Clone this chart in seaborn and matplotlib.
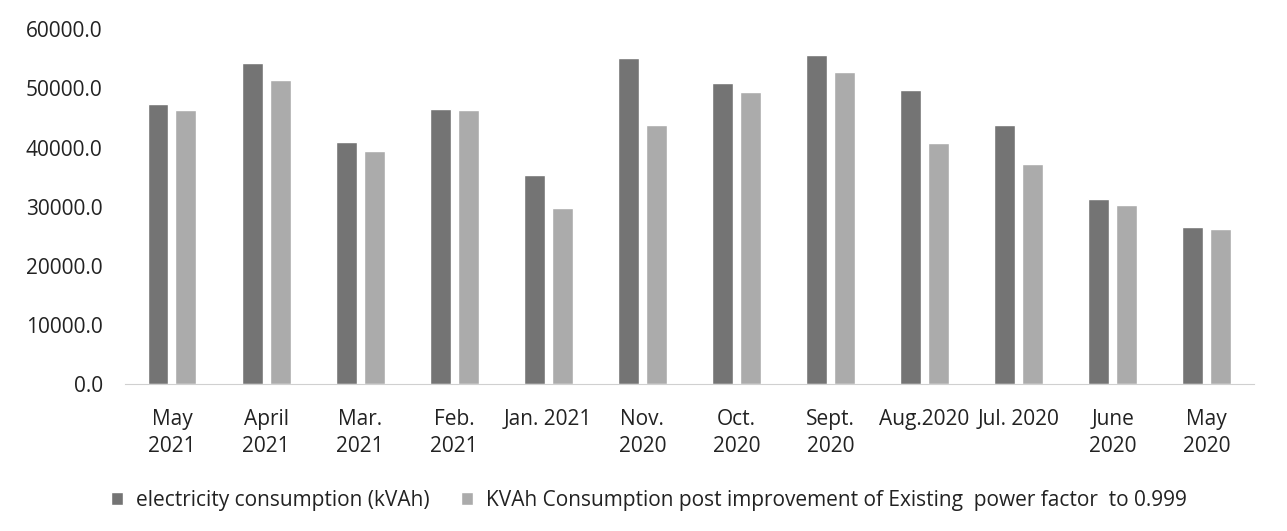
import numpy as np
import pandas as pd
import seaborn as sns
from matplotlib import pyplot as plt
from matplotlib.ticker import FuncFormatter

# Monthly data
months = [
    "May\n2021", "April\n2021", "Mar.\n2021", "Feb.\n2021", "Jan. 2021",
    "Nov.\n2020", "Oct.\n2020", "Sept.\n2020", "Aug.2020", "Jul. 2020",
    "June\n2020", "May\n2020",
]
kvah_consumption = [47400, 54250, 40900, 46550, 35400, 55200, 50900, 55650, 49650, 43800, 31250, 26600]
kvah_improved = [46300, 51450, 39500, 46300, 29700, 43750, 49450, 52850, 40700, 37300, 30350, 26250]

series_names = [
    "electricity consumption (kVAh)",
    "KVAh Consumption post improvement of Existing  power factor  to 0.999",
]
colors = ["#747474", "#ababab"]


def main():
    df = pd.DataFrame({
        "month": months * 2,
        "value": kvah_consumption + kvah_improved,
        "series": [series_names[0]] * len(months) + [series_names[1]] * len(months),
    })

    sns.set_style("white")
    plt.rcParams["font.family"] = ["Open Sans", "DejaVu Sans"]

    fig = plt.figure(figsize=(12.87, 5.31), dpi=100)
    ax = fig.add_axes([0.0971, 0.2768, 0.877, 0.668])

    sns.barplot(
        data=df, x="month", y="value", hue="series", order=months,
        hue_order=series_names, palette=colors, width=0.595, gap=0.25,
        saturation=1, ax=ax,
    )

    ax.set_ylim(0, 60000)
    ax.set_yticks(np.arange(0, 60001, 10000))
    ax.yaxis.set_major_formatter(FuncFormatter(lambda v, _: f"{v:.1f}"))
    ax.set_xlabel("")
    ax.set_ylabel("")
    ax.tick_params(axis="both", length=0, labelsize=15, colors="#222222")
    ax.tick_params(axis="x", pad=18)
    ax.tick_params(axis="y", pad=16)
    for lab in ax.get_xticklabels():
        lab.set_linespacing(1.4)
        lab.set_verticalalignment("top")

    for side in ["top", "right", "left"]:
        ax.spines[side].set_visible(False)
    ax.spines["bottom"].set_color("#d0d0d0")
    ax.spines["bottom"].set_linewidth(0.8)

    handles, labels = ax.get_legend_handles_labels()
    ax.get_legend().remove()
    fig.legend(
        handles, labels, loc="center", bbox_to_anchor=(0.504, 0.058), ncol=2,
        frameon=False, fontsize=15, handlelength=0.6, handleheight=0.6,
        handletextpad=0.6, columnspacing=1.5, labelcolor="#222222",
    )

    fig.savefig("out.png", dpi=100)
    plt.close(fig)


if __name__ == "__main__":

    main()
